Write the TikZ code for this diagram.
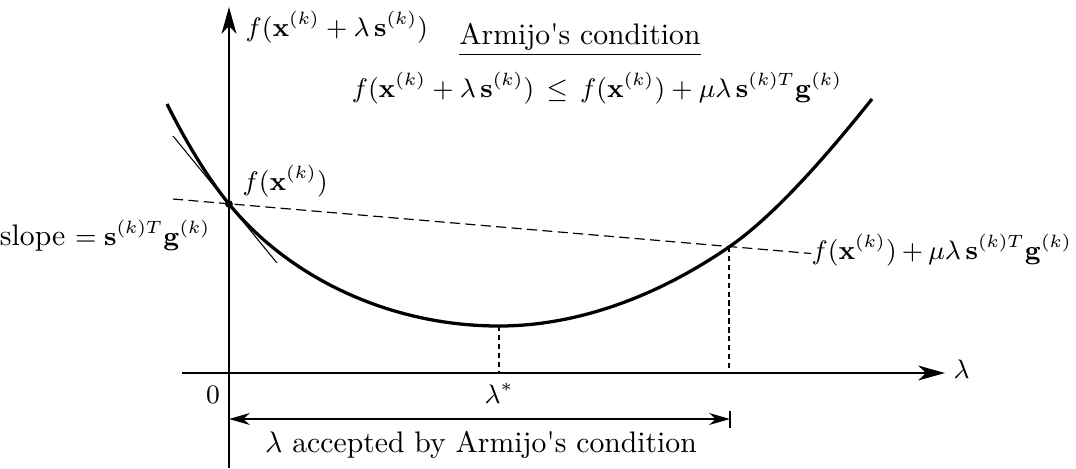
\documentclass[tikz,border=0pt]{standalone}
\usepackage{amsmath}
\usetikzlibrary{arrows.meta,positioning}

\newcommand{\mathsz}{\fontsize{9.2}{11}\selectfont}

\begin{document}
\begin{tikzpicture}[x=0.3367pt, y=-0.3367pt,
  axis/.style={line width=0.6pt, -{Stealth[length=9pt,width=5pt,inset=2.6pt]}},
  curve/.style={line width=1.1pt},
  tangent/.style={line width=0.35pt},
  guide/.style={line width=0.4pt, dash pattern=on 3.4pt off 1.8pt},
  drop/.style={line width=0.4pt, dash pattern=on 1.8pt off 1.2pt},
  span/.style={line width=0.5pt, {Stealth[length=7pt,width=4pt,inset=2.2pt]}-{Stealth[length=7pt,width=4pt,inset=2.2pt]}},
  lbl/.style={inner sep=0pt},
  mlbl/.style={inner sep=0pt, font=\mathsz}]
  \useasboundingbox (0,0) rectangle (1076,468);
  % axes
  \coordinate (xstart) at (182,373);
  \coordinate (xend) at (945,373);
  \coordinate (ystart) at (229,468);
  \coordinate (yend) at (229,7);
  \draw[axis] (xstart) -- (xend);
  \draw[axis] (ystart) -- (yend);
  % points on the curve
  \coordinate (C0) at (167,104);
  \coordinate (P0) at (229,204);
  \coordinate (Pmin) at (499,326);
  \coordinate (P1) at (729,247);
  \coordinate (C1) at (872,99);
  \coordinate (Qmin) at (499,373);
  \coordinate (Q1) at (729,373);
  % function
  \draw[curve] (C0) .. controls (187,144) and (209,179.6) .. (P0)
    .. controls (289,277.2) and (389,326) .. (Pmin)
    .. controls (575,326) and (655,298) .. (P1)
    .. controls (777,214) and (832,149) .. (C1);
  % tangent and Armijo line
  \coordinate (T0) at (173,136);
  \coordinate (T1) at (277,263);
  \draw[tangent] (T0) -- (T1);
  \coordinate (L0) at (173,199);
  \node[mlbl, anchor=base west] (armline) at (811,259) {\medmuskip=3.4mu$f(\mathbf{x}^{(k)})+\mu\lambda\,\mathbf{s}^{(k)T}\mathbf{g}^{(k)}$};
  \draw[guide] (L0) -- (armline.west |- 0,253.5);
  \fill (P0) circle[radius=1.3pt];
  % drop lines
  \draw[drop] (Pmin) -- (Qmin);
  \draw[drop] (P1) -- (Q1);
  % accepted range
  \coordinate (A0) at (229,419);
  \coordinate (A1) at (730,419);
  \draw[span] (A0) -- (A1);
  \draw[line width=0.5pt] (730,411) -- (730,428);
  % labels
  \node[mlbl, anchor=base west] (xlab) at (953,378) {$\lambda$};
  \node[mlbl, anchor=base west] (ylab) at (245,36) {$f(\mathbf{x}^{(k)}+\lambda\,\mathbf{s}^{(k)})$};
  \node[lbl, anchor=base] (title) at (580,44) {\underline{Armijo\textquotesingle s condition}};
  \node[mlbl, anchor=base] (cond) at (597,97) {$f(\mathbf{x}^{(k)}+\lambda\,\mathbf{s}^{(k)})\,\le\,f(\mathbf{x}^{(k)})+\mu\lambda\,\mathbf{s}^{(k)T}\mathbf{g}^{(k)}$};
  \node[mlbl, anchor=base west] (fx) at (242,190) {$f(\mathbf{x}^{(k)})$};
  \node[lbl, anchor=base east] (slope) at (211,245) {slope {\mathsz$=\mathbf{s}^{(k)T}\mathbf{g}^{(k)}$}};
  \node[mlbl, anchor=base] (zero) at (213,403) {$0$};
  \node[mlbl, anchor=base] (lstar) at (499,403) {$\lambda^{*}$};
  \node[lbl, anchor=base] (accept) at (481,452) {$\lambda$ accepted by Armijo\textquotesingle s condition};
\end{tikzpicture}
\end{document}
